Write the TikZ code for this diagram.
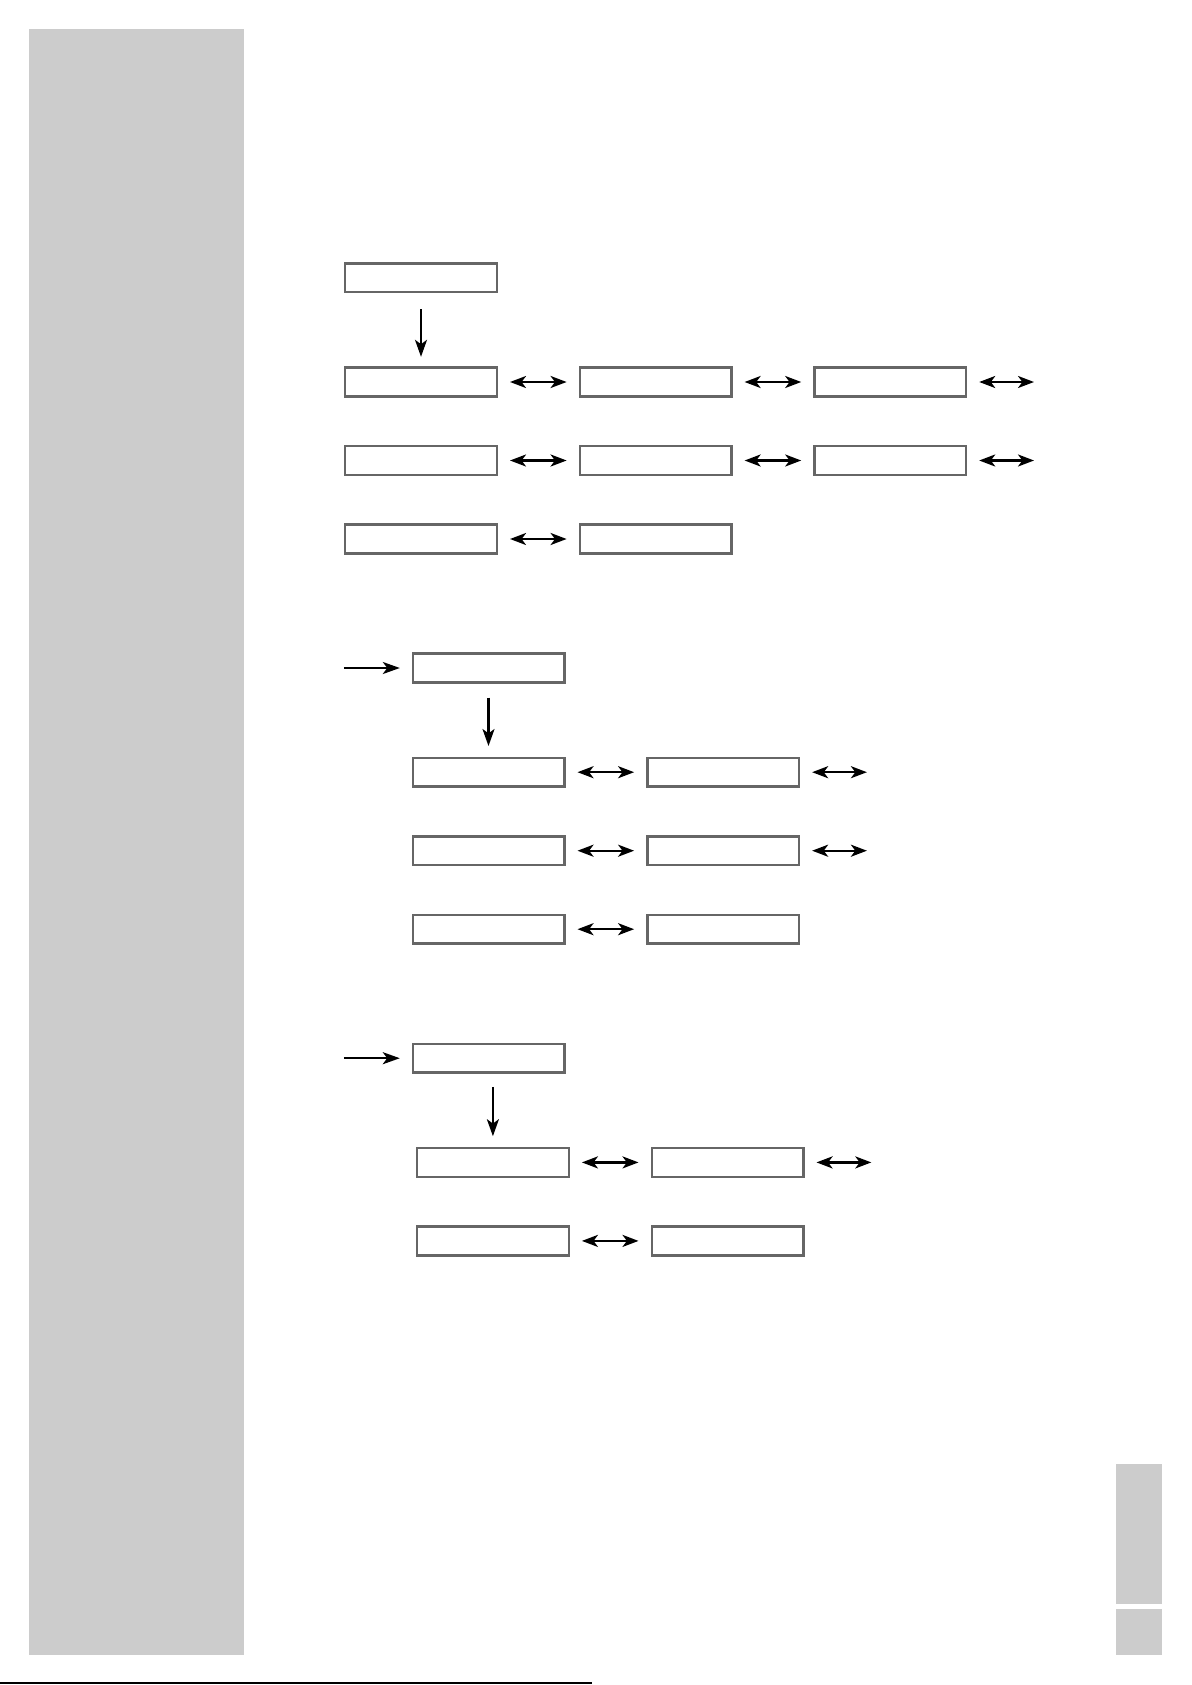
\documentclass[tikz,border=0pt]{standalone}
\usetikzlibrary{positioning,arrows.meta}
\definecolor{frame}{HTML}{666666}
\definecolor{side}{HTML}{CCCCCC}

\begin{document}
\begin{tikzpicture}[
    x=0.5pt, y=-0.5pt,
    node distance=23.65pt and 40.3pt,
    box/.style={draw=frame, line width=1.2pt, fill=white, minimum width=75.8pt, minimum height=14.4pt, inner sep=0pt},
    dblarr/.style={{Stealth[length=8pt,width=6pt,inset=2.2pt]}-{Stealth[length=8pt,width=6pt,inset=2.2pt]}, line width=1.2pt, shorten <=6pt, shorten >=6pt},
    onearr/.style={-{Stealth[length=8.5pt,width=6pt,inset=2.2pt]}, line width=1.1pt}
  ]
  \useasboundingbox (0,0) rectangle (1191,1685);
  \fill[side] (29,29) rectangle (244,1655);
  \fill[side] (1116,1464) rectangle (1162,1604);
  \fill[side] (1116,1609) rectangle (1162,1655);
  \draw[line width=0.8pt] (0,1683) -- (592,1683);

  % first menu
  \node[box] (s1top) at (421,277.8) {};
  \node[box, below=36.5pt of s1top] (s1a1) {};
  \node[box, right=of s1a1] (s1a2) {};
  \node[box, right=of s1a2] (s1a3) {};
  \node[box, below=of s1a1] (s1b1) {};
  \node[box, right=of s1b1] (s1b2) {};
  \node[box, right=of s1b2] (s1b3) {};
  \node[box, below=of s1b1] (s1c1) {};
  \node[box, right=of s1c1] (s1c2) {};
  \coordinate[right=33.4pt of s1a3] (s1a4);
  \coordinate[right=33.4pt of s1b3] (s1b4);

  \draw[onearr, shorten <=8pt, shorten >=4.8pt] (s1top) -- (s1a1);
  \draw[dblarr] (s1a1) -- (s1a2);
  \draw[dblarr] (s1a2) -- (s1a3);
  \draw[dblarr, shorten >=0pt] (s1a3) -- (s1a4);
  \draw[dblarr] (s1b1) -- (s1b2);
  \draw[dblarr] (s1b2) -- (s1b3);
  \draw[dblarr, shorten >=0pt] (s1b3) -- (s1b4);
  \draw[dblarr] (s1c1) -- (s1c2);

  % second menu
  \node[box] (s2top) at (488.5,668) {};
  \node[box, below=36.5pt of s2top] (s2a1) {};
  \node[box, right=of s2a1] (s2a2) {};
  \node[box, below=of s2a1] (s2b1) {};
  \node[box, right=of s2b1] (s2b2) {};
  \node[box, below=of s2b1] (s2c1) {};
  \node[box, right=of s2c1] (s2c2) {};
  \coordinate[left=33.85pt of s2top] (s2in);
  \coordinate[right=33.4pt of s2a2] (s2a3);
  \coordinate[right=33.4pt of s2b2] (s2b3);

  \draw[onearr, shorten >=5.85pt] (s2in) -- (s2top);
  \draw[onearr, shorten <=7pt, shorten >=5.3pt] (s2top) -- (s2a1);
  \draw[dblarr] (s2a1) -- (s2a2);
  \draw[dblarr, shorten >=0pt] (s2a2) -- (s2a3);
  \draw[dblarr] (s2b1) -- (s2b2);
  \draw[dblarr, shorten >=0pt] (s2b2) -- (s2b3);
  \draw[dblarr] (s2c1) -- (s2c2);

  % third menu
  \node[box] (s3top) at (488.5,1058.2) {};
  \node[box, below=36.5pt of s3top, xshift=2.2pt] (s3a1) {};
  \node[box, right=of s3a1] (s3a2) {};
  \node[box, below=of s3a1] (s3b1) {};
  \node[box, right=of s3b1] (s3b2) {};
  \coordinate[left=33.85pt of s3top] (s3in);
  \coordinate[right=33.4pt of s3a2] (s3a3);

  \draw[onearr, shorten >=5.85pt] (s3in) -- (s3top);
  \draw[onearr, shorten <=6.5pt, shorten >=5.3pt] (s3top.south -| s3a1) -- (s3a1.north);
  \draw[dblarr] (s3a1) -- (s3a2);
  \draw[dblarr, shorten >=0pt] (s3a2) -- (s3a3);
  \draw[dblarr] (s3b1) -- (s3b2);
\end{tikzpicture}
\end{document}
